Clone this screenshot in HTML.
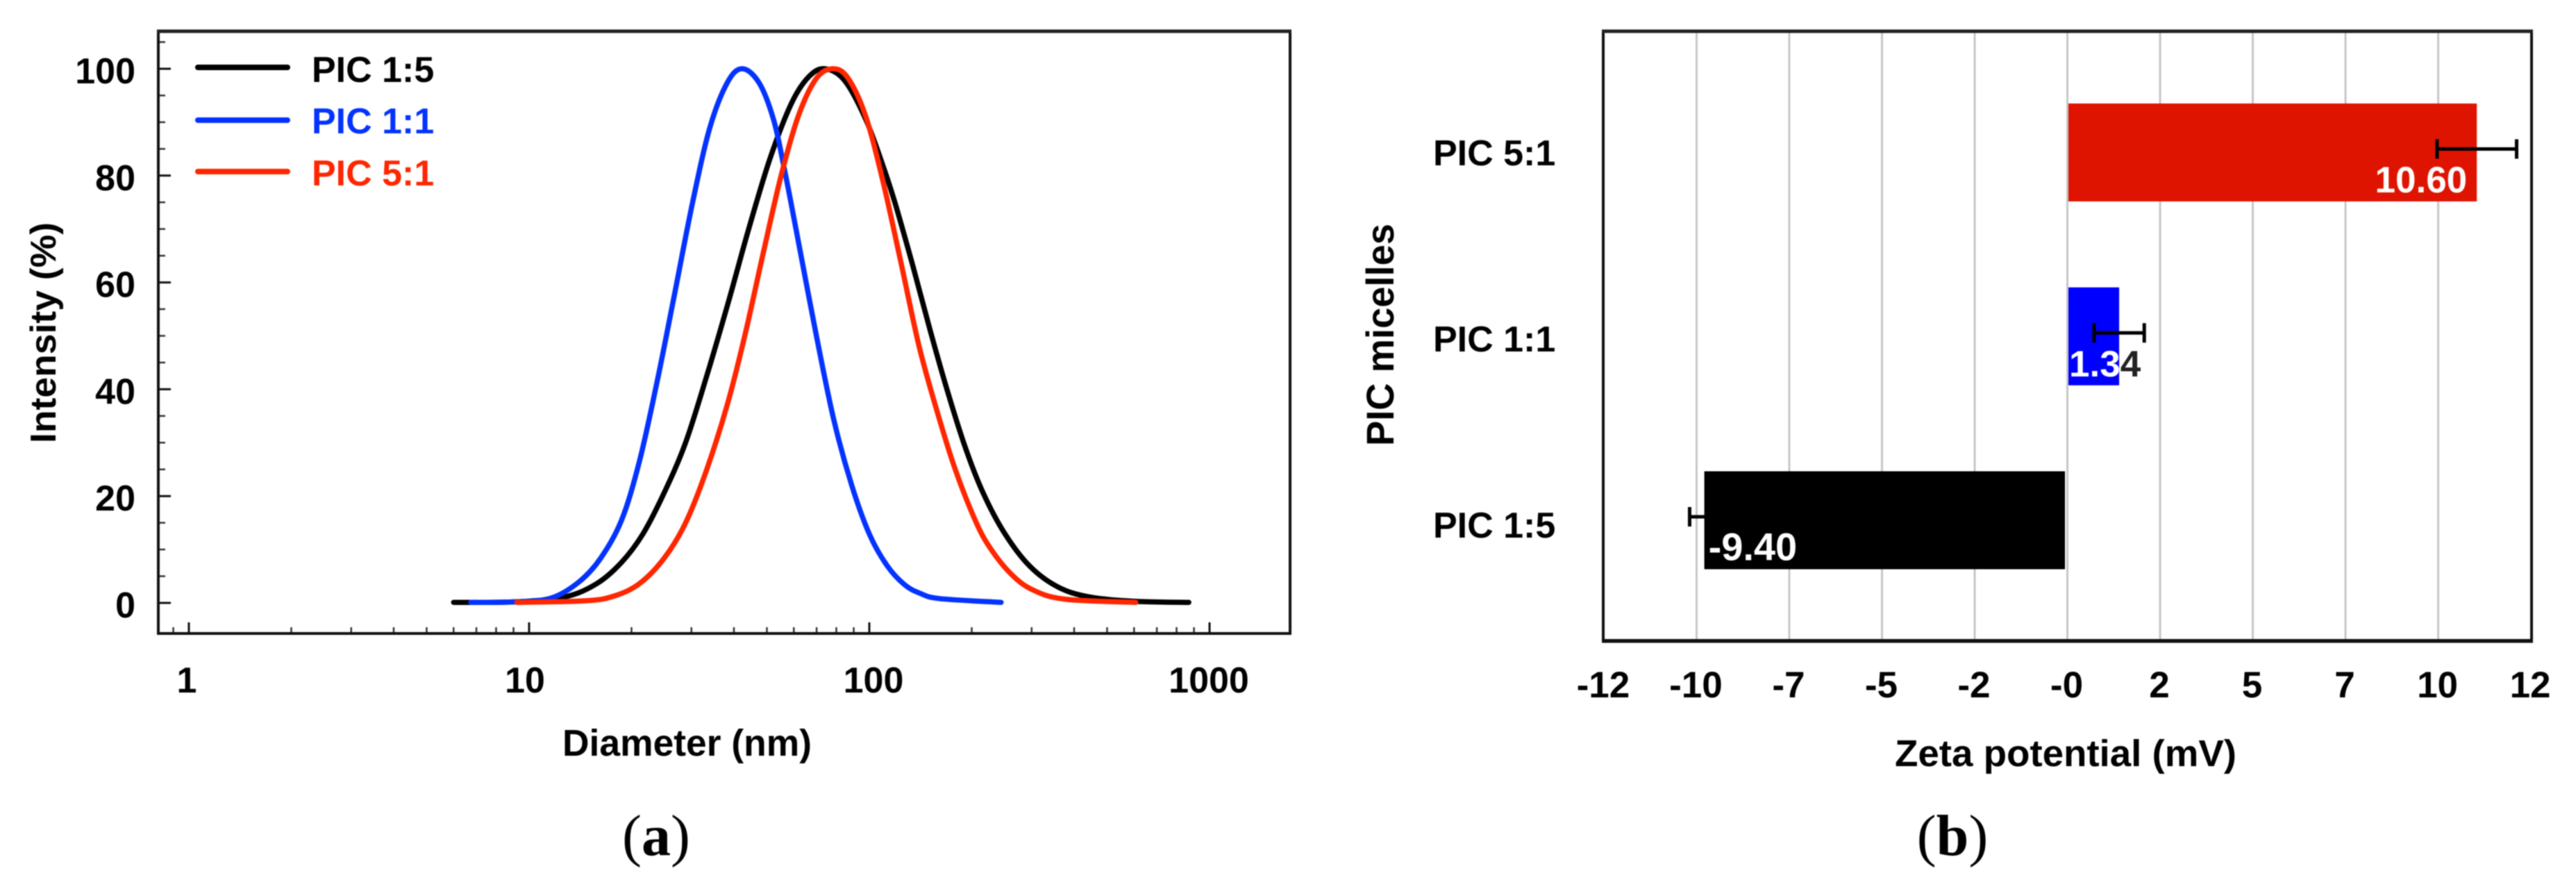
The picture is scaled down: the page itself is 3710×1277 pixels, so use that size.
<!DOCTYPE html>
<html lang="en">
<head>
<meta charset="utf-8">
<title>PIC micelles: size distribution and zeta potential</title>
<style>
  html, body { margin: 0; padding: 0; background: #fff; }
  svg { display: block; filter: blur(0.7px); }
  text { font-family: "Liberation Sans", Arial, sans-serif; font-weight: 700; fill: #000; }
  .panel { font-family: "Liberation Serif", "Times New Roman", serif; font-weight: 400; font-size: 84px; }
  .panel tspan.b { font-weight: 700; }
</style>
</head>
<body>
<svg id="fig" xmlns="http://www.w3.org/2000/svg" width="3710" height="1277" viewBox="0 0 3710 1277">
  <rect x="0" y="0" width="3710" height="1277" fill="#fff"/>

  <!-- Panel a -->
  <g id="chartA">
    <g id="aTicks"></g>
    <g id="aLines"></g>
    <rect x="228" y="45" width="1630" height="867" fill="none" stroke="#111" stroke-width="4"/>
    <line x1="226" y1="45" x2="1860" y2="45" stroke="#222" stroke-width="5"/>
    <g>
      <line x1="285" y1="97" x2="414" y2="97" stroke="#000" stroke-width="8" stroke-linecap="round"/>
      <text x="449" y="118" font-size="52">PIC 1:5</text>
      <line x1="285" y1="173" x2="414" y2="173" stroke="#0433FF" stroke-width="8" stroke-linecap="round"/>
      <text x="449" y="192" font-size="52" style="fill:#0433FF">PIC 1:1</text>
      <line x1="285" y1="247" x2="414" y2="247" stroke="#FF2600" stroke-width="8" stroke-linecap="round"/>
      <text x="449" y="267" font-size="52" style="fill:#FF2600">PIC 5:1</text>
    </g>
    <text transform="translate(80,638) rotate(-90)" font-size="52" textLength="318" lengthAdjust="spacingAndGlyphs">Intensity (%)</text>
    <text x="810" y="1088" font-size="54" textLength="359" lengthAdjust="spacingAndGlyphs">Diameter (nm)</text>
    <text class="panel" x="945" y="1231" text-anchor="middle">(<tspan class="b">a</tspan>)</text>
  </g>

  <!-- Panel b -->
  <g id="chartB">
    <g id="bGrid"></g>
    <g id="bBars"></g>
    <rect x="2309" y="45" width="1337" height="877" fill="none" stroke="#111" stroke-width="4"/>
    <line x1="2307" y1="45" x2="3648" y2="45" stroke="#222" stroke-width="5"/>
    <line x1="2307" y1="923" x2="3648" y2="923" stroke="#111" stroke-width="5"/>
    <g id="bLabels"></g>
    <text transform="translate(2007,642) rotate(-90)" font-size="56" textLength="320" lengthAdjust="spacingAndGlyphs">PIC micelles</text>
    <text x="2729" y="1103" font-size="54" textLength="492" lengthAdjust="spacingAndGlyphs">Zeta potential (mV)</text>
    <text class="panel" x="2812" y="1231" text-anchor="middle">(<tspan class="b">b</tspan>)</text>
  </g>
</svg>

<script>
// ---- Panel (a) data ----
const blackDiameters = [6.0, 9.1, 12.7, 15.8, 18.7, 21.6, 24.9, 28.8, 33.2, 38.4, 44.3, 51.2, 59.1, 66.6, 74.2, 84.6, 97.7, 110, 119, 134, 151, 170, 192, 216, 250, 296, 358, 444, 607, 869];
const blackIntensity = [0.1, 0.2, 1.1, 3.6, 7.6, 12.9, 20.5, 29.9, 42.3, 56, 70.2, 83.4, 93.6, 98.6, 100, 97.8, 90.5, 81.6, 74.9, 63.3, 51, 39.5, 28.9, 20.6, 13, 6.9, 3, 1.1, 0.3, 0.1];
const blueDiameters = [6.74, 9.1, 11.6, 14, 16.2, 18.7, 21.1, 23.8, 26.8, 30.2, 34, 38.4, 42.5, 47.6, 52.4, 56.3, 61.9, 69.9, 78.7, 88.8, 100, 113, 127, 141, 161, 244];
const blueIntensity = [0.1, 0.2, 0.9, 3.9, 8.3, 15.5, 26.5, 41.5, 58, 74.8, 89, 97.6, 100, 97.2, 90.3, 81.2, 67.6, 50, 34.2, 22, 12.9, 6.9, 3.4, 1.8, 0.8, 0.1];
const redDiameters = [9.2, 14.7, 17.8, 21.1, 24.9, 28.8, 33.2, 38.4, 43.3, 48.7, 55, 61.9, 69.9, 78.3, 86.7, 97.7, 110, 124, 140, 158, 178, 205, 227, 262, 303, 376, 607];
const redIntensity = [0.1, 0.4, 1.3, 3.6, 8.3, 14.9, 24.8, 37.5, 50.7, 65.3, 79.9, 91.2, 98.2, 100, 98.2, 91, 78.6, 63.6, 48.1, 36, 25.4, 15.4, 10.2, 5.3, 2.4, 0.7, 0.1];
const intensityMajorTicks = [0, 20, 40, 60, 80, 100];
const intensityMinorTicks = [5, 10, 15, 25, 30, 35, 45, 50, 55, 65, 70, 75, 85, 90, 95, 105];
const diameterMajorTicks = [1, 10, 100, 1000];
const diameterMinorTicks = [0.9, 2, 3, 4, 5, 6, 7, 8, 9, 20, 30, 40, 50, 60, 70, 80, 90, 200, 300, 400, 500, 600, 700, 800, 900];

// ---- Panel (b) data ----
const micelleNames = ['PIC 5:1', 'PIC 1:1', 'PIC 1:5'];
const zetaValues = [10.6, 1.34, -9.4];
const zetaErrors = [1.03, 0.65, 0.38];
const zetaTickValues = [-12, -9.6, -7.2, -4.8, -2.4, 0, 2.4, 4.8, 7.2, 9.6, 12];
const zetaTickLabels = ['-12', '-10', '-7', '-5', '-2', '-0', '2', '5', '7', '10', '12'];

// ---- Axis functions ----
const xLog = d => 272 + 490 * Math.log10(d);
const yIntensity = v => 868 - 7.69 * v;
const xZeta = v => 2977.5 + 55.63 * v;
const yBarCentre = i => 219.5 + 264.75 * i;
const yCategoryBaseline = i => 238 + 268 * i;

const NS = 'http://www.w3.org/2000/svg';
function make(tag, parent, attrs, content) {
  const el = document.createElementNS(NS, tag);
  for (const k in attrs) el.setAttribute(k, attrs[k]);
  if (content !== undefined) el.textContent = content;
  parent.appendChild(el);
  return el;
}

// Smooth path through data points (Catmull-Rom to cubic Bezier, y clamped to data range)
function smoothPath(xs, ys) {
  const p = xs.map((d, i) => [xLog(d), yIntensity(ys[i])]);
  let out = 'M' + p[0][0].toFixed(1) + ' ' + p[0][1].toFixed(1);
  for (let i = 0; i < p.length - 1; i++) {
    const a = p[Math.max(i - 1, 0)], b = p[i], c = p[i + 1], d = p[Math.min(i + 2, p.length - 1)];
    const c1x = b[0] + (c[0] - a[0]) / 6;
    const c1y = Math.min(b[1] + (c[1] - a[1]) / 6, yIntensity(0));
    const c2x = c[0] - (d[0] - b[0]) / 6;
    const c2y = Math.min(c[1] - (d[1] - b[1]) / 6, yIntensity(0));
    out += 'C' + c1x.toFixed(1) + ' ' + c1y.toFixed(1) + ' ' + c2x.toFixed(1) + ' ' + c2y.toFixed(1) + ' ' + c[0].toFixed(1) + ' ' + c[1].toFixed(1);
  }
  return out;
}

// ---- Draw panel (a) ticks ----
const aTicks = document.getElementById('aTicks');
intensityMajorTicks.forEach(v => {
  const tick = make('line', aTicks, { x1: 228, x2: 246, y1: yIntensity(v), y2: yIntensity(v), stroke: '#111', 'stroke-width': 3 });
  
  
  const label = make('text', aTicks, { x: 195, y: yIntensity(v) + 21, 'font-size': 52, 'text-anchor': 'end' }, String(v));
  
  
});
intensityMinorTicks.forEach(v => {
  const tick = make('line', aTicks, { x1: 228, x2: 238, y1: yIntensity(v), y2: yIntensity(v), stroke: '#333', 'stroke-width': 2.5 });
  
  
});
const diameterLabelShift = d => d === 1 ? -3 : d === 10 ? -6 : d === 100 ? 6 : -1;
diameterMajorTicks.forEach(d => {
  const tick = make('line', aTicks, { x1: xLog(d), x2: xLog(d), y1: 896, y2: 912, stroke: '#111', 'stroke-width': 3 });
  
  
  const label = make('text', aTicks, { x: xLog(d) + diameterLabelShift(d), y: 997, 'font-size': 52, 'text-anchor': 'middle' }, String(d));
  
  
});
diameterMinorTicks.forEach(d => {
  const tick = make('line', aTicks, { x1: xLog(d), x2: xLog(d), y1: 903, y2: 912, stroke: '#333', 'stroke-width': 2.5 });
  
  
});

// ---- Draw panel (a) curves ----
const aLines = document.getElementById('aLines');
const lineStyle = { fill: 'none', 'stroke-width': 7.5, 'stroke-linecap': 'round', 'stroke-linejoin': 'round' };
const blackLine = make('path', aLines, Object.assign({ d: smoothPath(blackDiameters, blackIntensity), stroke: '#000' }, lineStyle));


const blueLine = make('path', aLines, Object.assign({ d: smoothPath(blueDiameters, blueIntensity), stroke: '#0433FF' }, lineStyle));


const redLine = make('path', aLines, Object.assign({ d: smoothPath(redDiameters, redIntensity), stroke: '#FF2600' }, lineStyle));



// ---- Draw panel (b) grid and tick labels ----
const bGrid = document.getElementById('bGrid');
const bLabels = document.getElementById('bLabels');
zetaTickValues.forEach((v, i) => {
  if (i > 0 && i < zetaTickValues.length - 1) {
    const grid = make('line', bGrid, { x1: xZeta(v), x2: xZeta(v), y1: 47, y2: 921, stroke: '#c6c6c6', 'stroke-width': 3 });
    
    
  }
  const label = make('text', bLabels, { x: xZeta(v) - 1, y: 1004, 'font-size': 53, 'text-anchor': 'middle' }, zetaTickLabels[i]);
  
  
});
micelleNames.forEach((name, i) => {
  const label = make('text', bLabels, { x: 2064, y: yCategoryBaseline(i), 'font-size': 52 }, name);
  
  
});

// ---- Draw panel (b) bars ----
const bBars = document.getElementById('bBars');
const barColors = ['#DF1400', '#0000FF', '#000000'];
const barHeight = 141;
zetaValues.forEach((v, i) => {
  const cy = yBarCentre(i);
  const left = v >= 0 ? xZeta(0) + 1.5 : xZeta(v);
  const right = v >= 0 ? xZeta(v) : xZeta(0) - 3.5;
  const bar = make('rect', bBars, { x: left, y: cy - barHeight / 2, width: right - left, height: barHeight, fill: barColors[i] });
  
  

  const eLow = xZeta(v - zetaErrors[i]);
  const eHigh = xZeta(v + zetaErrors[i]);
  const ey = cy - 5;
  const err = make('g', bBars, { stroke: '#000', 'stroke-width': 5 });
  
  
  make('line', err, { x1: eLow, x2: eHigh, y1: ey, y2: ey });
  make('line', err, { x1: eLow, x2: eLow, y1: ey - 14, y2: ey + 14 });
  make('line', err, { x1: eHigh, x2: eHigh, y1: ey - 14, y2: ey + 14 });

  const printed = v.toFixed(2);
  const wide = (right - left) > 200;
  const anchor = wide ? (v >= 0 ? 'end' : 'start') : 'start';
  const lx = wide ? (v >= 0 ? right - 14 : left + 6) : left + 1;
  const ly = cy + barHeight / 2 - 13;
  const value = make('text', bBars, { x: lx, y: ly, 'font-size': v < 0 ? 56 : 53, 'text-anchor': anchor, style: 'fill:#fff' }, printed);
  
  
  // Characters past the end of the bar are drawn dark
  let inside = printed.length;
  for (let c = 0; c < printed.length; c++) {
    const s = value.getStartPositionOfChar(c).x, e = value.getEndPositionOfChar(c).x;
    if ((s + e) / 2 > right) { inside = c; break; }
  }
  if (inside < printed.length) {
    value.textContent = '';
    make('tspan', value, { style: 'fill:#fff' }, printed.slice(0, inside));
    make('tspan', value, { style: 'fill:#222' }, printed.slice(inside));
  }
});
</script>
</body>
</html>
